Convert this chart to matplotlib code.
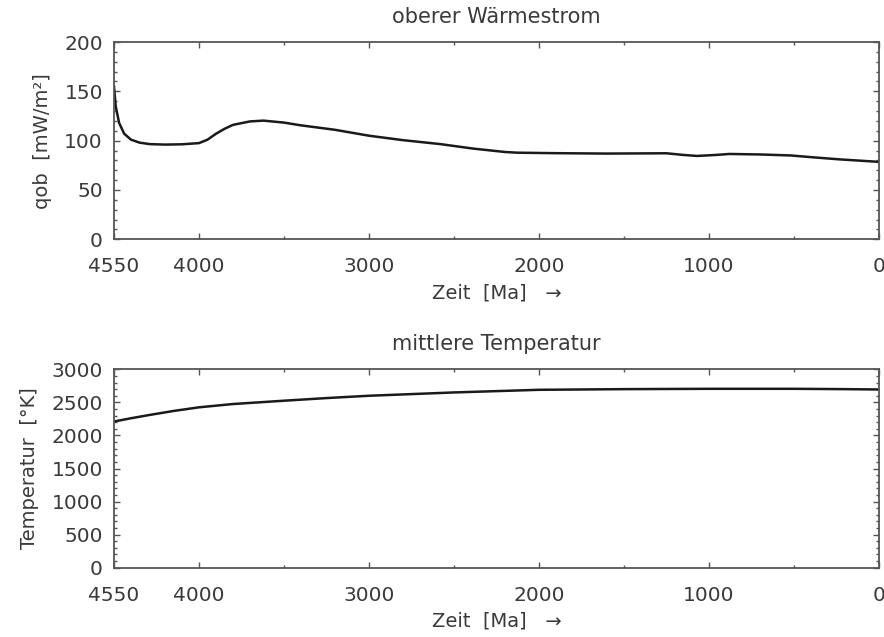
import matplotlib
matplotlib.use("Agg")
import matplotlib.pyplot as plt
from matplotlib.ticker import MultipleLocator

# ---- data ----
t_q = [4500, 4490, 4470, 4440, 4400, 4350, 4290, 4200, 4100, 4000, 3950, 3900,
       3850, 3800, 3700, 3620, 3500, 3400, 3200, 3000, 2800, 2580, 2390, 2200,
       2130, 1900, 1600, 1250, 1150, 1070, 960, 880, 700, 520, 380, 230, 0]
q_ob = [155, 135, 118, 107, 101, 98, 96.5, 96, 96.3, 97.5, 101, 107,
        112, 116, 119.5, 120.3, 118.3, 115.5, 111, 105, 100.5, 96.5, 92, 88.5,
        87.8, 87.3, 86.9, 87.2, 85.5, 84.5, 85.5, 86.5, 86, 85, 83, 81, 78.5]

t_T = [4500, 4400, 4290, 4150, 4000, 3800, 3500, 3250, 3000, 2750, 2500,
       2250, 2000, 1500, 1000, 500, 200, 0]
T_mean = [2210, 2260, 2310, 2370, 2425, 2475, 2525, 2565, 2600, 2625, 2650,
          2670, 2690, 2700, 2705, 2705, 2700, 2695]

x_ticks = [4500, 4000, 3000, 2000, 1000, 0]
x_ticklabels = ["4550", "4000", "3000", "2000", "1000", "0"]
y1_ticks = [0, 50, 100, 150, 200]
y2_ticks = [0, 500, 1000, 1500, 2000, 2500, 3000]

titles = ["oberer Wärmestrom", "mittlere Temperatur"]
ylabels = ["qob  [mW/m²]", "Temperatur  [°K]"]
xlabel = "Zeit  [Ma]   →"

# ---- style ----
txt = "#3a3a3a"
plt.rcParams["font.family"] = ["DejaVu Sans"]
plt.rcParams["font.size"] = 14

fig = plt.figure(figsize=(8.84, 6.37), dpi=100)
W, H = 884, 637
ax1 = fig.add_axes([114 / W, 1 - 239.3 / H, (879 - 114) / W, (239.3 - 42) / H])
ax2 = fig.add_axes([114 / W, 1 - 567.7 / H, (879 - 114) / W, (567.7 - 369.3) / H])

def style(ax, yt, ylim, yminor, title, ylab, labpad):
    ax.set_xlim(4500, 0)
    ax.set_ylim(*ylim)
    ax.set_xticks(x_ticks)
    ax.set_xticklabels(x_ticklabels)
    ax.xaxis.set_minor_locator(MultipleLocator(500))
    ax.set_yticks(yt)
    ax.yaxis.set_minor_locator(MultipleLocator(yminor))
    ax.tick_params(axis="both", which="both", direction="in", top=True, right=True,
                   colors="#555555", labelcolor=txt, width=1.0)
    ax.tick_params(axis="both", which="major", length=4, labelsize=14.5)
    ax.tick_params(axis="x", which="major", pad=13)
    ax.tick_params(axis="y", which="major", pad=8)
    ax.tick_params(axis="both", which="minor", length=2.5)
    for s in ax.spines.values():
        s.set_color("#555555")
        s.set_linewidth(1.3)
    ax.set_title(title, color=txt, fontsize=15, pad=14)
    ax.set_xlabel(xlabel, color=txt, fontsize=14, labelpad=5)
    ax.set_ylabel(ylab, color=txt, fontsize=14, labelpad=labpad)

ax1.plot(t_q, q_ob, color="#1a1a1a", lw=1.8)
ax2.plot(t_T, T_mean, color="#1a1a1a", lw=1.8)

style(ax1, y1_ticks, (0, 200), 10, titles[0], ylabels[0], 9)
style(ax2, y2_ticks, (0, 3000), 100, titles[1], ylabels[1], 9)

fig.savefig("out.png", dpi=100)
